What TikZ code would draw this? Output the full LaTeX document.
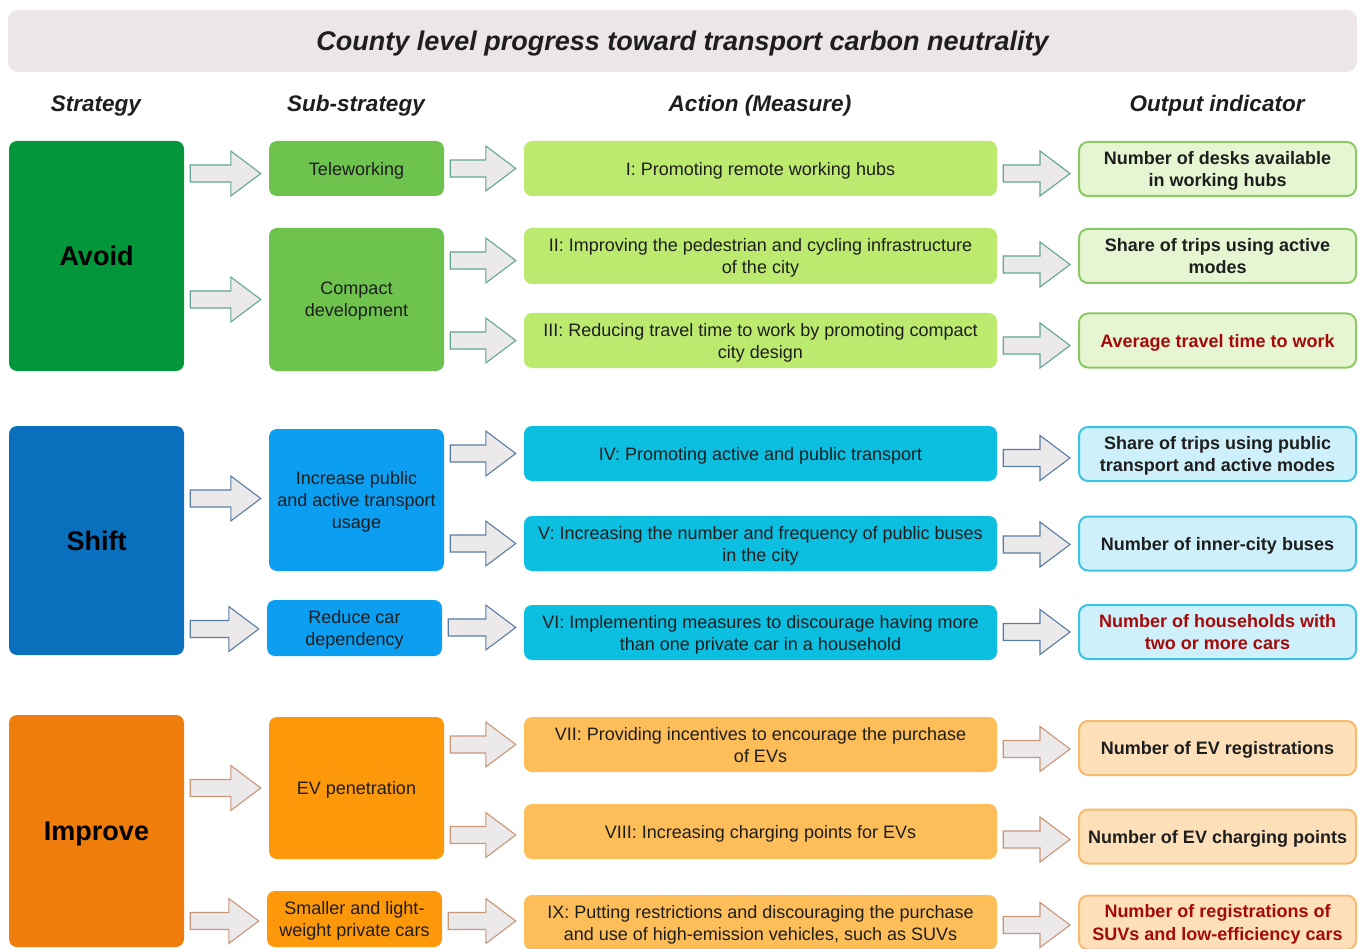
\documentclass[tikz,border=0pt]{standalone}
\usepackage{fontspec}
\setmainfont{Liberation Sans}
\usetikzlibrary{calc}

% palette
\definecolor{titlebg}{RGB}{236,231,230}
\definecolor{avoidS}{RGB}{3,150,58}
\definecolor{avoidB}{RGB}{110,195,78}
\definecolor{avoidA}{RGB}{187,234,110}
\definecolor{avoidO}{RGB}{230,246,210}
\definecolor{avoidL}{RGB}{140,200,100}
\definecolor{avoidArr}{RGB}{100,165,150}
\definecolor{shiftS}{RGB}{10,112,190}
\definecolor{shiftB}{RGB}{12,158,240}
\definecolor{shiftA}{RGB}{12,190,224}
\definecolor{shiftO}{RGB}{205,240,250}
\definecolor{shiftL}{RGB}{60,195,225}
\definecolor{shiftArr}{RGB}{90,125,165}
\definecolor{impS}{RGB}{238,125,12}
\definecolor{impB}{RGB}{252,152,10}
\definecolor{impA}{RGB}{253,190,90}
\definecolor{impO}{RGB}{253,224,186}
\definecolor{impL}{RGB}{247,185,110}
\definecolor{impArr}{RGB}{200,150,120}
\definecolor{arrfill}{RGB}{236,233,234}
\definecolor{ink}{RGB}{30,30,30}
\definecolor{alert}{RGB}{165,10,10}

% block arrow between two nodes: [vertical shift] colour, from, to
\newcommand\flowarrow[4][0]{%
  \draw[flowarr, draw=#2] let \p1=(#3.east), \p2=(#4.west),
    \n1={\x1+6pt}, \n2={\x2-8pt}, \n3={\x2-38pt}, \n4={\y2-#1pt} in
    ({\n1},{\n4+8.5pt}) -- ({\n3},{\n4+8.5pt}) -- ({\n3},{\n4+22.5pt}) --
    ({\n2},{\n4+0pt}) -- ({\n3},{\n4-22.5pt}) -- ({\n3},{\n4-8.5pt}) --
    ({\n1},{\n4-8.5pt}) -- cycle;}

\begin{document}
\begin{tikzpicture}[x=1pt, y=-1pt,
  box/.style={rounded corners=8pt, inner sep=2pt, align=center, text=ink,
    text depth=0pt, font=\fontsize{18}{22}\selectfont},
  strat/.style={box, minimum width=175pt, text=black, text height=19.5pt,
    font=\bfseries\fontsize{27}{32}\selectfont},
  subbox/.style={box, minimum width=175pt},
  act/.style={box, minimum width=473pt, minimum height=55pt},
  outp/.style={box, draw, line width=2pt, rounded corners=9pt,
    minimum width=277pt, minimum height=54pt,
    font=\bfseries\fontsize{18}{22.5}\selectfont},
  hdr/.style={font=\bfseries\itshape\fontsize{22.5}{27}\selectfont, text=ink,
    text height=16pt, text depth=0pt},
  flowarr/.style={fill=arrfill, line width=1.1pt, line join=miter}]

\clip (0,0) rectangle (1362,949);
\fill[white] (0,0) rectangle (1362,949);

% title bar and column headings
\node[fill=titlebg, rounded corners=10pt, minimum width=1349pt, minimum height=62pt,
  text height=19.5pt, text depth=0pt,
  font=\bfseries\itshape\fontsize{27}{32}\selectfont, text=ink] (title) at (682.5,41)
  {County level progress toward transport carbon neutrality};
\node[hdr] (hstrat) at (96,104) {Strategy};
\node[hdr] (hsub) at (356,104) {Sub-strategy};
\node[hdr] (hact) at (760,104) {Action (Measure)};
\node[hdr] (hout) at (1217,104) {Output indicator};

% strategies
\node[strat, fill=avoidS, minimum height=230pt] (avoid) at (96.5,256) {Avoid};
\node[strat, fill=shiftS, minimum height=229pt] (shift) at (96.5,540.5) {Shift};
\node[strat, fill=impS, minimum height=232pt] (improve) at (96.5,831) {Improve};

% sub-strategies
\node[subbox, fill=avoidB, minimum height=55pt] (tele) at (356.5,168.5) {Teleworking};
\node[subbox, fill=avoidB, minimum height=143pt] (compact) at (356.5,299.5) {Compact\\development};
\node[subbox, fill=shiftB, minimum height=142pt] (increase) at (356.5,500) {Increase public\\and active transport\\usage};
\node[subbox, fill=shiftB, minimum height=56pt] (reduce) at (354.5,628) {Reduce car\\dependency};
\node[subbox, fill=impB, minimum height=142pt] (evpen) at (356.5,788) {EV penetration};
\node[subbox, fill=impB, minimum height=56pt] (smaller) at (354.5,919) {Smaller and light-\\weight private cars};

% actions
\node[act, fill=avoidA] (a1) at (760.5,168.5) {I: Promoting remote working hubs};
\node[act, fill=avoidA, minimum height=56pt] (a2) at (760.5,256) {II: Improving the pedestrian and cycling infrastructure\\of the city};
\node[act, fill=avoidA] (a3) at (760.5,340.5) {III: Reducing travel time to work by promoting compact\\city design};
\node[act, fill=shiftA] (a4) at (760.5,453.5) {IV: Promoting active and public transport};
\node[act, fill=shiftA] (a5) at (760.5,543.5) {V: Increasing the number and frequency of public buses\\in the city};
\node[act, fill=shiftA] (a6) at (760.5,632.5) {VI: Implementing measures to discourage having more\\than one private car in a household};
\node[act, fill=impA] (a7) at (760.5,744.5) {VII: Providing incentives to encourage the purchase\\of EVs};
\node[act, fill=impA] (a8) at (760.5,831.5) {VIII: Increasing charging points for EVs};
\node[act, fill=impA] (a9) at (760.5,922.5) {IX: Putting restrictions and discouraging the purchase\\and use of high-emission vehicles, such as SUVs};

% output indicators
\node[outp, fill=avoidO, draw=avoidL] (o1) at (1217.5,169) {Number of desks available\\in working hubs};
\node[outp, fill=avoidO, draw=avoidL] (o2) at (1217.5,256) {Share of trips using active\\modes};
\node[outp, fill=avoidO, draw=avoidL, text=alert] (o3) at (1217.5,340.5) {Average travel time to work};
\node[outp, fill=shiftO, draw=shiftL] (o4) at (1217.5,454) {Share of trips using public\\transport and active modes};
\node[outp, fill=shiftO, draw=shiftL] (o5) at (1217.5,543.5) {Number of inner-city buses};
\node[outp, fill=shiftO, draw=shiftL, text=alert] (o6) at (1217.5,632) {Number of households with\\two or more cars};
\node[outp, fill=impO, draw=impL] (o7) at (1217.5,748) {Number of EV registrations};
\node[outp, fill=impO, draw=impL] (o8) at (1217.5,836.5) {Number of EV charging points};
\node[outp, fill=impO, draw=impL, text=alert] (o9) at (1217.5,922.5) {Number of registrations of\\SUVs and low-efficiency cars};

% strategy -> sub-strategy
\flowarrow[5]{avoidArr}{avoid}{tele}
\flowarrow{avoidArr}{avoid}{compact}
\flowarrow[-1.5]{shiftArr}{shift}{increase}
\flowarrow[1]{shiftArr}{shift}{reduce}
\flowarrow{impArr}{improve}{evpen}
\flowarrow[2]{impArr}{improve}{smaller}

% sub-strategy -> action
\flowarrow{avoidArr}{tele}{a1}
\flowarrow[4.5]{avoidArr}{compact}{a2}
\flowarrow{avoidArr}{compact}{a3}
\flowarrow{shiftArr}{increase}{a4}
\flowarrow{shiftArr}{increase}{a5}
\flowarrow[-5]{shiftArr}{reduce}{a6}
\flowarrow{impArr}{evpen}{a7}
\flowarrow[3.5]{impArr}{evpen}{a8}
\flowarrow[-1.5]{impArr}{smaller}{a9}

% action -> output indicator
\flowarrow[4.5]{avoidArr}{a1}{o1}
\flowarrow[8.5]{avoidArr}{a2}{o2}
\flowarrow[5]{avoidArr}{a3}{o3}
\flowarrow[4]{shiftArr}{a4}{o4}
\flowarrow[1]{shiftArr}{a5}{o5}
\flowarrow{shiftArr}{a6}{o6}
\flowarrow[1]{impArr}{a7}{o7}
\flowarrow[3]{impArr}{a8}{o8}
\flowarrow[2.5]{impArr}{a9}{o9}
\end{tikzpicture}
\end{document}
